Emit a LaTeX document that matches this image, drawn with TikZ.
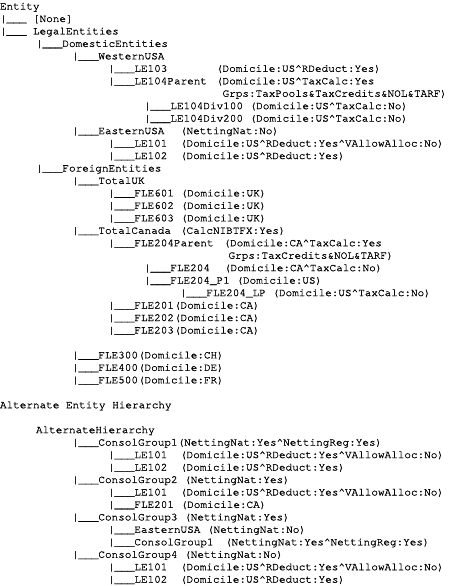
\documentclass[tikz,border=0pt]{standalone}
\usepackage{fontspec}
\newfontfamily\tfont{TeX Gyre Cursor}[FakeBold=0.9]
\newcommand{\ca}{\textasciicircum}
\begin{document}
\begin{tikzpicture}[x=1bp,y=-1bp,
  t/.style={anchor=base west, inner sep=0pt, outer sep=0pt, text=black,
            font=\tfont\fontsize{11bp}{12.46bp}\selectfont}]
\fill[white] (0,0) rectangle (467,586);
\useasboundingbox (0,0) rectangle (467,586);
\begin{scope}[y=-12.46bp, yshift=-9.5bp]
\node[t] (k0) at (0,0) {Entity};
\node[t] (k1) at (0,1) {|\_\_\_ [None]};
\node[t] (k2) at (0,2) {|\_\_\_ LegalEntities};
\node[t] (k3) at (36,3) {|\_\_\_DomesticEntities};
\node[t] (k4) at (72,4) {|\_\_\_WesternUSA};
\node[t] (k5) at (108,5) {|\_\_\_LE103};
\node[t] (k5a) at (216,5) {(Domicile:US\ca RDeduct:Yes)};
\node[t] (k6) at (108,6) {|\_\_\_LE104Parent};
\node[t] (k6a) at (216,6) {(Domicile:US\ca TaxCalc:Yes};
\node[t] (k7) at (222.6,7) {Grps:TaxPools\&TaxCredits\&NOL\&TARF)};
\node[t] (k8) at (144,8) {|\_\_\_LE104Div100 (Domicile:US\ca TaxCalc:No)};
\node[t] (k9) at (144,9) {|\_\_\_LE104Div200 (Domicile:US\ca TaxCalc:No)};
\node[t] (k10) at (72,10) {|\_\_\_EasternUSA};
\node[t] (k10a) at (180,10) {(NettingNat:No)};
\node[t] (k11) at (108,11) {|\_\_\_LE101};
\node[t] (k11a) at (180,11) {(Domicile:US\ca RDeduct:Yes\ca VAllowAlloc:No)};
\node[t] (k12) at (108,12) {|\_\_\_LE102};
\node[t] (k12a) at (180,12) {(Domicile:US\ca RDeduct:Yes)};
\node[t] (k13) at (36,13) {|\_\_\_ForeignEntities};
\node[t] (k14) at (72,14) {|\_\_\_TotalUK};
\node[t] (k15) at (108,15) {|\_\_\_FLE601 (Domicile:UK)};
\node[t] (k16) at (108,16) {|\_\_\_FLE602 (Domicile:UK)};
\node[t] (k17) at (108,17) {|\_\_\_FLE603 (Domicile:UK)};
\node[t] (k18) at (72,18) {|\_\_\_TotalCanada};
\node[t] (k18a) at (180,18) {(CalcNIBTFX:Yes)};
\node[t] (k19) at (108,19) {|\_\_\_FLE204Parent};
\node[t] (k19a) at (223.5,19) {(Domicile:CA\ca TaxCalc:Yes};
\node[t] (k20) at (228.5,20) {Grps:TaxCredits\&NOL\&TARF)};
\node[t] (k21) at (144,21) {|\_\_\_FLE204};
\node[t] (k21a) at (224,21) {(Domicile:CA\ca TaxCalc:No)};
\node[t] (k22) at (144,22) {|\_\_\_FLE204\_P1 (Domicile:US)};
\node[t] (k23) at (180,23) {|\_\_\_FLE204\_LP (Domicile:US\ca TaxCalc:No)};
\node[t] (k24) at (108,24) {|\_\_\_FLE201(Domicile:CA)};
\node[t] (k25) at (108,25) {|\_\_\_FLE202(Domicile:CA)};
\node[t] (k26) at (108,26) {|\_\_\_FLE203(Domicile:CA)};
\node[t] (k28) at (72,28) {|\_\_\_FLE300(Domicile:CH)};
\node[t] (k29) at (72,29) {|\_\_\_FLE400(Domicile:DE)};
\node[t] (k30) at (72,30) {|\_\_\_FLE500(Domicile:FR)};
\node[t] (k32) at (0,32) {Alternate Entity Hierarchy};
\node[t] (k34) at (36,34) {AlternateHierarchy};
\node[t] (k35) at (72,35) {|\_\_\_ConsolGroup1(NettingNat:Yes\ca NettingReg:Yes)};
\node[t] (k36) at (108,36) {|\_\_\_LE101};
\node[t] (k36a) at (180,36) {(Domicile:US\ca RDeduct:Yes\ca VAllowAlloc:No)};
\node[t] (k37) at (108,37) {|\_\_\_LE102};
\node[t] (k37a) at (180,37) {(Domicile:US\ca RDeduct:Yes)};
\node[t] (k38) at (72,38) {|\_\_\_ConsolGroup2 (NettingNat:Yes)};
\node[t] (k39) at (108,39) {|\_\_\_LE101};
\node[t] (k39a) at (180,39) {(Domicile:US\ca RDeduct:Yes\ca VAllowAlloc:No)};
\node[t] (k40) at (108,40) {|\_\_\_FLE201 (Domicile:CA)};
\node[t] (k41) at (72,41) {|\_\_\_ConsolGroup3 (NettingNat:Yes)};
\node[t] (k42) at (108,42) {|\_\_\_EasternUSA (NettingNat:No)};
\node[t] (k43) at (108,43) {|\_\_\_ConsolGroup1};
\node[t] (k43a) at (225,43) {(NettingNat:Yes\ca NettingReg:Yes)};
\node[t] (k44) at (72,44) {|\_\_\_ConsolGroup4 (NettingNat:No)};
\node[t] (k45) at (108,45) {|\_\_\_LE101};
\node[t] (k45a) at (180,45) {(Domicile:US\ca RDeduct:Yes\ca VAllowAlloc:No)};
\node[t] (k46) at (108,46) {|\_\_\_LE102};
\node[t] (k46a) at (180,46) {(Domicile:US\ca RDeduct:Yes)};
\end{scope}
\end{tikzpicture}
\end{document}
